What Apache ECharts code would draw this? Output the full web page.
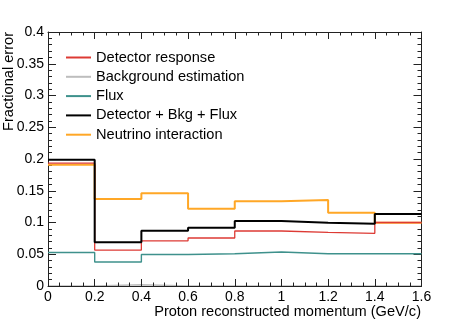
<!DOCTYPE html>
<html>
<head>
<meta charset="utf-8">
<script src="https://cdn.jsdelivr.net/npm/echarts@6/dist/echarts.min.js"></script>
<style>html,body{margin:0;padding:0;background:#fff}#c{width:469px;height:319px}</style>
</head>
<body>
<div id="c"></div>
<script>
const binEdges = [0, 0.2, 0.4, 0.6, 0.8, 1.0, 1.2, 1.4, 1.6];
const seriesNames = ['Detector response', 'Background estimation', 'Flux', 'Detector + Bkg + Flux', 'Neutrino interaction'];
const detectorResponse = [0.1935, 0.0565, 0.0711, 0.0756, 0.0866, 0.0845, 0.0830, 0.1000];
const backgroundEstimation = [0, 0.002, 0, 0, 0, 0, 0, 0];
const flux = [0.0527, 0.0378, 0.0495, 0.0509, 0.0535, 0.0509, 0.0509, 0.0509];
const detBkgFlux = [0.1990, 0.0690, 0.0870, 0.0918, 0.1024, 0.0997, 0.0980, 0.1135];
const neutrinoInteraction = [0.1910, 0.1370, 0.1460, 0.1218, 0.1334, 0.1354, 0.1155, 0.0995];
const xTicks = { min: 0, max: 1.6, interval: 0.2 };
const yTicks = { min: 0, max: 0.4, interval: 0.05 };

const FONT = "'Liberation Sans', Arial, Helvetica, sans-serif";

function stepData(vals) {
  return binEdges.map((x, i) => [x, vals[Math.min(i, vals.length - 1)]]);
}

const styles = [
  { color: '#dd3a34', width: 1.3, z: 4 },
  { color: '#bdbdbd', width: 1.3, z: -1 },
  { color: '#3e918c', width: 1.4, z: 3 },
  { color: '#000000', width: 2, z: 6 },
  { color: '#ffa726', width: 2, z: 3 }
];
const allVals = [detectorResponse, backgroundEstimation, flux, detBkgFlux, neutrinoInteraction];

const series = seriesNames.map((name, k) => ({
  name: name,
  type: 'line',
  step: 'end',
  data: stepData(allVals[k]),
  showSymbol: false,
  symbol: 'none',
  z: styles[k].z,
  color: styles[k].color,
  lineStyle: { color: styles[k].color, width: styles[k].width },
  emphasis: { disabled: true },
  animation: false
}));

function xAx(pos, labels) {
  return {
    type: 'value', position: pos, min: xTicks.min, max: xTicks.max, interval: xTicks.interval,
    axisLine: { show: true, onZero: false, lineStyle: { color: '#222', width: 1 } },
    axisTick: { show: true, inside: true, length: 7, lineStyle: { color: '#222' } },
    minorTick: { show: true, splitNumber: 4, length: 3.5, lineStyle: { color: '#222' } },
    splitLine: { show: false },
    axisLabel: { show: labels, fontSize: 14, fontFamily: FONT, color: '#000', margin: 4 }
  };
}
function yAx(pos, labels) {
  return {
    type: 'value', position: pos, min: yTicks.min, max: yTicks.max, interval: yTicks.interval,
    axisLine: { show: true, onZero: false, lineStyle: { color: '#222', width: 1 } },
    axisTick: { show: true, inside: true, length: 8, lineStyle: { color: '#222' } },
    minorTick: { show: true, splitNumber: 5, length: 4, lineStyle: { color: '#222' } },
    splitLine: { show: false },
    axisLabel: { show: labels, fontSize: 14, fontFamily: FONT, color: '#000', margin: 4 }
  };
}

const chart = echarts.init(document.getElementById('c'), null, { renderer: 'canvas' });
chart.setOption({
  animation: false,
  backgroundColor: '#fff',
  grid: { left: 48, right: 47.5, top: 32, bottom: 33, containLabel: false },
  xAxis: [xAx('bottom', true), xAx('top', false)],
  yAxis: [yAx('left', true), yAx('right', false)],
  legend: {
    orient: 'vertical', left: 61, top: 44.5,
    icon: 'rect', itemWidth: 25, itemHeight: 2, itemGap: 3.3,
    selectedMode: false,
    textStyle: { fontSize: 14.6, fontFamily: FONT, color: '#000', lineHeight: 16 },
    data: seriesNames
  },
  graphic: [
    { type: 'text', x: 8.5, y: 32, rotation: Math.PI / 2,
      style: { text: 'Fractional error', font: '14.6px ' + FONT, fill: '#000', textAlign: 'right', textVerticalAlign: 'middle' } },
    { type: 'text', x: 421, y: 311.5,
      style: { text: 'Proton reconstructed momentum (GeV/c)', font: '14.6px ' + FONT, fill: '#000', textAlign: 'right', textVerticalAlign: 'middle' } }
  ],
  series: series
});
</script>
</body>
</html>
